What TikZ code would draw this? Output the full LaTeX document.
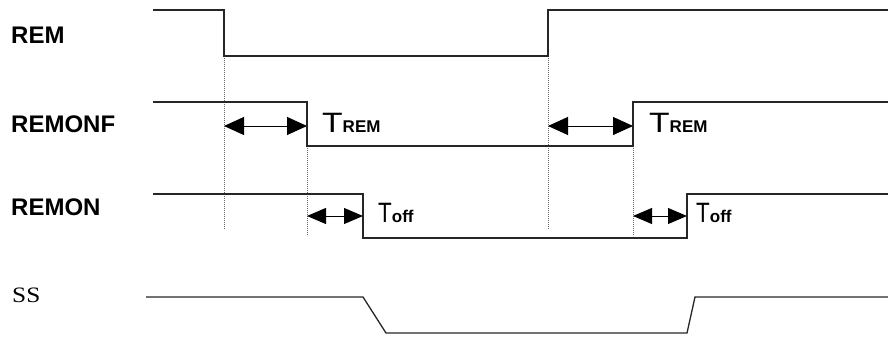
\documentclass[tikz,border=0pt]{standalone}
\usepackage{fontspec}
\setmainfont{Liberation Sans}
\newfontfamily\serfont{Liberation Serif}
\usetikzlibrary{arrows.meta}
\newcommand{\TREMlabel}{{\fontsize{28}{28}\selectfont\scalebox{1.2}[1]{T}}{\fontsize{17}{17}\selectfont\bfseries REM}}
\newcommand{\Tofflabel}{{\fontsize{28}{28}\selectfont\scalebox{0.8}[1]{T}}{\fontsize{17}{17}\selectfont\bfseries off}}
\begin{document}
\begin{tikzpicture}[x=1pt,y=-1pt,
  sig/.style={line width=1.3pt, line join=miter, black!85},
  guide/.style={line width=0.8pt, black!60, dash pattern=on 0.8pt off 1.2pt},
  dimlong/.style={line width=1pt, {Triangle[length=20pt,width=18pt]}-{Triangle[length=20pt,width=18pt]}},
  dimshort/.style={line width=1pt, {Triangle[length=19pt,width=16pt]}-{Triangle[length=19pt,width=16pt]}},
  lab/.style={anchor=base west, inner sep=0pt, font=\fontsize{24}{24}\selectfont\bfseries},
  tlab/.style={anchor=base west, inner sep=0pt}]
\useasboundingbox (0,0) rectangle (888,337);

% signal labels
\node[lab] (lrem) at (11,44) {REM};
\node[lab] (lremonf) at (11,132) {REMONF};
\node[lab] (lremon) at (11,215) {REMON};
\node[anchor=base west, inner sep=0pt, font=\serfont\fontsize{22}{22}\selectfont] (lss) at (12,302) {\scalebox{1.15}[1]{SS}};

% edge coordinates
\coordinate (e1top) at (224,56);   \coordinate (e1bot) at (224,229);
\coordinate (e2top) at (548,56);   \coordinate (e2bot) at (548,229);
\coordinate (e3top) at (307,146);  \coordinate (e3bot) at (307,236);
\coordinate (e4top) at (633,146);  \coordinate (e4bot) at (633,236);

% dotted guides
\draw[guide] (e1top) -- (e1bot);
\draw[guide] (e2top) -- (e2bot);
\draw[guide] (e3top) -- (e3bot);
\draw[guide] (e4top) -- (e4bot);

% waveforms
\draw[sig] (153,10) -- (224,10) -- (224,56) -- (548,56) -- (548,10) -- (888,10);
\draw[sig] (153,102) -- (307,102) -- (307,146) -- (633,146) -- (633,102) -- (888,102);
\draw[sig] (153,194) -- (363,194) -- (363,238) -- (687,238) -- (687,194) -- (888,194);
\draw[sig] (146,297) -- (363,297) -- (386,333) -- (687,333) -- (695,297) -- (888,297);

% timing arrows
\coordinate (a1s) at (224,126); \coordinate (a1e) at (307,126);
\coordinate (a2s) at (548,126); \coordinate (a2e) at (633,126);
\coordinate (b1s) at (307,216); \coordinate (b1e) at (363,216);
\coordinate (b2s) at (633,216); \coordinate (b2e) at (687,216);
\draw[dimlong] (a1s) -- (a1e);
\draw[dimlong] (a2s) -- (a2e);
\draw[dimshort] (b1s) -- (b1e);
\draw[dimshort] (b2s) -- (b2e);

\node[tlab] (trem1) at (322,132) {\TREMlabel};
\node[tlab] (trem2) at (649,132) {\TREMlabel};
\node[tlab] (toff1) at (378,222) {\Tofflabel};
\node[tlab] (toff2) at (696,222) {\Tofflabel};
\end{tikzpicture}
\end{document}
